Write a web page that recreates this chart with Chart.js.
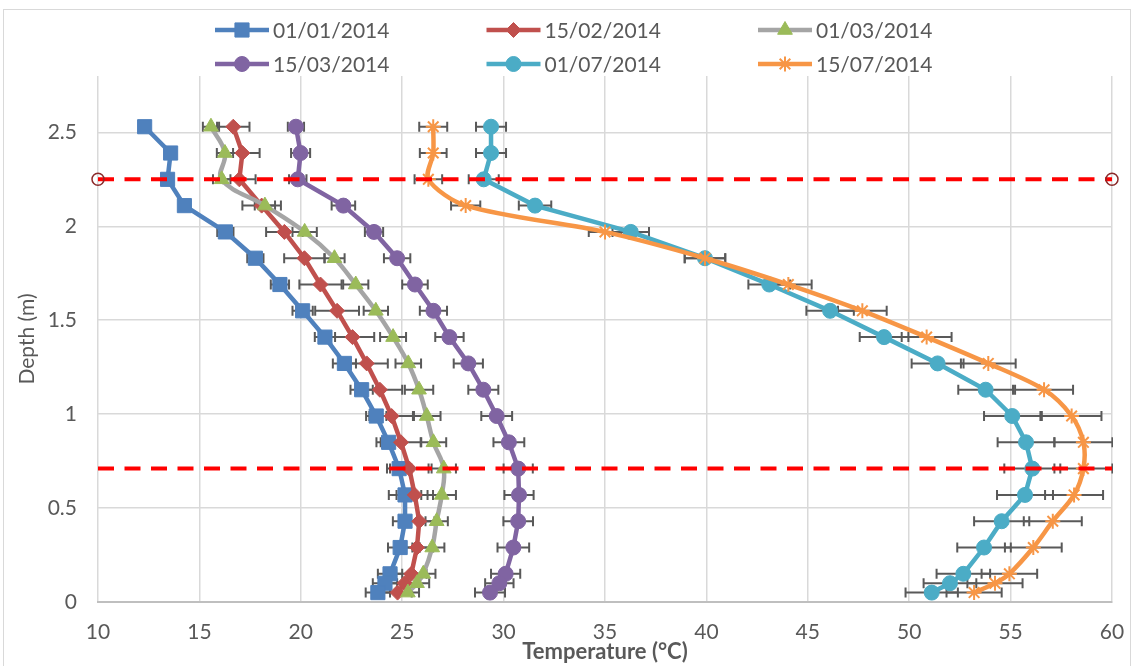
<!DOCTYPE html>
<html>
<head>
<meta charset="utf-8">
<script src="https://cdn.jsdelivr.net/npm/chart.js@4.4.0/dist/chart.umd.min.js"></script>
<style>
  body { margin: 0; background: #fff; }
  canvas { display: block; }
</style>
</head>
<body>
<canvas id="myChart" width="1134" height="666"></canvas>
<script>
// depth of each measurement (m), from the top down
var depths = [2.53, 2.39, 2.25, 2.11, 1.97, 1.83, 1.69, 1.55, 1.41, 1.27, 1.13, 0.99, 0.85, 0.71, 0.57, 0.43, 0.29, 0.15, 0.10, 0.05];

var dates = ['01/01/2014', '15/02/2014', '01/03/2014', '15/03/2014', '01/07/2014', '15/07/2014'];

// temperatures (°C)
var temp0101 = [12.3, 13.58, 13.43, 14.26, 16.28, 17.76, 18.97, 20.09, 21.19, 22.15, 23.0, 23.72, 24.33, 24.85, 25.14, 25.14, 24.9, 24.4, 24.15, 23.8];
var temp1502 = [16.67, 17.12, 16.97, 18.07, 19.19, 20.18, 20.97, 21.79, 22.55, 23.25, 23.9, 24.48, 24.94, 25.35, 25.62, 25.84, 25.73, 25.45, 25.12, 24.77];
var temp0103 = [15.57, 16.26, 16.1, 18.23, 20.19, 21.66, 22.71, 23.7, 24.55, 25.3, 25.83, 26.21, 26.54, 27.05, 26.95, 26.7, 26.48, 26.04, 25.73, 25.28];
var temp1503 = [19.76, 19.99, 19.85, 22.1, 23.61, 24.75, 25.63, 26.54, 27.33, 28.26, 29.0, 29.66, 30.26, 30.72, 30.76, 30.72, 30.48, 30.1, 29.79, 29.33];
var temp0107 = [29.38, 29.38, 29.02, 31.55, 36.27, 39.93, 43.1, 46.1, 48.76, 51.4, 53.77, 55.08, 55.76, 56.07, 55.71, 54.56, 53.69, 52.67, 52.01, 51.11];
var temp1507 = [26.53, 26.53, 26.29, 28.13, 35.0, 39.93, 44.04, 47.69, 50.86, 53.9, 56.65, 58.01, 58.59, 58.59, 58.13, 57.08, 56.12, 54.94, 54.23, 53.2];

// error bar half-widths (°C)
var err0101 = [0.2, 0.2, 0.2, 0.25, 0.4, 0.4, 0.45, 0.5, 0.5, 0.57, 0.55, 0.5, 0.6, 0.6, 0.8, 0.6, 0.6, 0.6, 0.6, 0.6];
var err1502 = [0.8, 0.85, 0.8, 0.95, 0.9, 1.0, 1.04, 1.08, 1.07, 1.04, 1.1, 1.1, 1.0, 0.95, 0.9, 0.75, 0.8, 0.75, 0.7, 0.7];
var err0103 = [0.4, 0.4, 0.43, 0.5, 0.6, 0.5, 0.62, 0.6, 0.64, 0.63, 0.7, 0.68, 0.63, 0.6, 0.7, 0.55, 0.6, 0.6, 0.6, 0.55];
var err1503 = [0.4, 0.47, 0.43, 0.58, 0.45, 0.65, 0.63, 0.67, 0.7, 0.72, 0.74, 0.76, 0.76, 0.72, 0.72, 0.73, 0.78, 0.72, 0.7, 0.74];
var err0107 = [0.74, 0.74, 0.74, 0.8, 0.9, 1.0, 1.03, 1.17, 1.2, 1.28, 1.35, 1.39, 1.4, 1.38, 1.38, 1.36, 1.32, 1.32, 1.3, 1.29];
var err1507 = [0.69, 0.66, 0.68, 0.72, 0.8, 1.0, 1.15, 1.2, 1.23, 1.35, 1.43, 1.47, 1.43, 1.43, 1.43, 1.43, 1.4, 1.37, 1.36, 1.36];

// red dashed reference depths
var refDepths = [2.25, 0.71];
var refRange = [10, 60];

var xTicks = [10, 15, 20, 25, 30, 35, 40, 45, 50, 55, 60];
var yTicks = [0, 0.5, 1, 1.5, 2, 2.5];

var FONT = 'Lato, "Open Sans", sans-serif';
var GREY = '#595959';

function points(temps) {
  return temps.map(function(t, i) { return { x: t, y: depths[i] }; });
}

function series(i, temps, errs, color, marker, style, radius) {
  return {
    label: dates[i],
    data: points(temps),
    errors: errs,
    inLegend: true,
    legendIndex: i,
    showLine: true,
    borderColor: color,
    borderWidth: 4.5,
    tension: 0,
    pointStyle: style,
    pointRadius: radius,
    pointHoverRadius: radius,
    pointBackgroundColor: marker,
    pointBorderColor: marker,
    pointBorderWidth: 1,
    order: 6 - i
  };
}

var datasets = [
  series(0, temp0101, err0101, '#4F81BD', '#4F81BD', 'rect', 10),
  series(1, temp1502, err1502, '#C0504D', '#C0504D', 'rectRot', 7.5),
  series(2, temp0103, err0103, '#A5A5A5', '#9BBB59', 'triangle', 8.5),
  series(3, temp1503, err1503, '#8064A2', '#8064A2', 'circle', 7.5),
  series(4, temp0107, err0107, '#4BACC6', '#4BACC6', 'circle', 7.5),
  series(5, temp1507, err1507, '#F79646', '#F79646', 'star', 7.5)
];
datasets[2].tension = 0.4;
datasets[5].tension = 0.3;
datasets[5].pointBorderWidth = 2;

refDepths.forEach(function(d, k) {
  datasets.push({
    label: 'ref' + k,
    data: refRange.map(function(x) { return { x: x, y: d }; }),
    showLine: true,
    borderColor: '#FF0000',
    borderWidth: 4,
    borderDash: [16, 10.5],
    pointRadius: k == 0 ? 6 : 0,
    pointStyle: 'circle',
    pointBackgroundColor: 'rgba(255,255,255,0)',
    pointBorderColor: '#8B2A2A',
    pointBorderWidth: 1.5,
    clip: false,
    order: 0
  });
});

// horizontal error bars, under the series
var errorBars = {
  id: 'errorBars',
  beforeDatasetsDraw: function(chart) {
    var ctx = chart.ctx, xs = chart.scales.x, ys = chart.scales.y, a = chart.chartArea;
    ctx.save();
    ctx.beginPath();
    ctx.rect(a.left, a.top, a.right - a.left + 1, a.bottom - a.top);
    ctx.clip();
    ctx.strokeStyle = GREY;
    ctx.lineWidth = 2;
    chart.data.datasets.forEach(function(ds) {
      if (!ds.errors) return;
      ds.data.forEach(function(p, i) {
        var e = ds.errors[i];
        var x1 = xs.getPixelForValue(p.x - e), x2 = xs.getPixelForValue(p.x + e);
        var y = ys.getPixelForValue(p.y);
        ctx.beginPath();
        ctx.moveTo(x1, y); ctx.lineTo(x2, y);
        ctx.moveTo(x1, y - 5); ctx.lineTo(x1, y + 5);
        ctx.moveTo(x2, y - 5); ctx.lineTo(x2, y + 5);
        ctx.stroke();
      });
    });
    ctx.restore();
  }
};

// excel style legend: line with marker, 3 per row
var legendPlugin = {
  id: 'excelLegend',
  afterDraw: function(chart) {
    var ctx = chart.ctx;
    ctx.save();
    ctx.font = '21px ' + FONT;
    ctx.textBaseline = 'middle';
    ctx.textAlign = 'left';
    chart.data.datasets.forEach(function(ds) {
      if (!ds.inLegend) return;
      var i = ds.legendIndex;
      var x0 = 215 + (i % 3) * 271.5, y = 30 + Math.floor(i / 3) * 34;
      ctx.strokeStyle = ds.borderColor;
      ctx.lineWidth = ds.borderWidth;
      ctx.setLineDash([]);
      ctx.beginPath(); ctx.moveTo(x0, y); ctx.lineTo(x0 + 54, y); ctx.stroke();
      ctx.fillStyle = ds.pointBackgroundColor;
      ctx.strokeStyle = ds.pointBorderColor;
      ctx.lineWidth = ds.pointBorderWidth;
      Chart.helpers.drawPoint(ctx, { pointStyle: ds.pointStyle, radius: ds.pointRadius, rotation: 0, borderWidth: ds.pointBorderWidth }, x0 + 27, y);
      ctx.fillStyle = GREY;
      ctx.fillText(ds.label, x0 + 58, y + 1);
    });
    ctx.restore();
  }
};

var frame = {
  id: 'frame',
  beforeDraw: function(chart) {
    var ctx = chart.ctx;
    ctx.save();
    ctx.fillStyle = '#fff';
    ctx.fillRect(0, 0, chart.width, chart.height);
    ctx.strokeStyle = '#D9D9D9';
    ctx.lineWidth = 1;
    ctx.strokeRect(3.5, 9.5, 1127, 670);
    ctx.restore();
  }
};

var ctx = document.getElementById('myChart').getContext('2d');
var myChart = new Chart(ctx, {
  type: 'scatter',
  data: { datasets: datasets },
  options: {
    responsive: false,
    animation: false,
    devicePixelRatio: 1,
    layout: { padding: { top: 76, left: 0, right: 22, bottom: 0 } },
    plugins: {
      legend: { display: false },
      tooltip: { enabled: false }
    },
    scales: {
      x: {
        type: 'linear',
        min: 10,
        max: 60,
        afterBuildTicks: function(scale) { scale.ticks = xTicks.map(function(v) { return { value: v }; }); },
        afterFit: function(scale) { scale.height = 64; scale.paddingRight = 0; scale.paddingLeft = 0; },
        grid: { color: '#D9D9D9', lineWidth: 1.5, drawTicks: false },
        border: { color: '#BFBFBF', width: 2 },
        ticks: { color: GREY, font: { family: FONT, size: 21 }, padding: 18, maxRotation: 0 },
        title: { display: true, text: 'Temperature (°C)', color: GREY, font: { family: FONT, size: 22, weight: 'bold' }, padding: { top: 0, bottom: 1 } }
      },
      y: {
        type: 'linear',
        min: 0,
        max: 2.8,
        afterBuildTicks: function(scale) { scale.ticks = yTicks.map(function(v) { return { value: v }; }); },
        afterFit: function(scale) { scale.width = 98; },
        grid: { color: '#D9D9D9', lineWidth: 1.5, drawTicks: false },
        border: { display: false },
        ticks: { color: GREY, font: { family: FONT, size: 21 }, padding: 21, callback: function(v) { return String(v); } },
        title: { display: true, text: 'Depth (m)', color: GREY, font: { family: FONT, size: 21 }, padding: { top: 15, bottom: 0 } }
      }
    }
  },
  plugins: [frame, errorBars, legendPlugin]
});
</script>
</body>
</html>
